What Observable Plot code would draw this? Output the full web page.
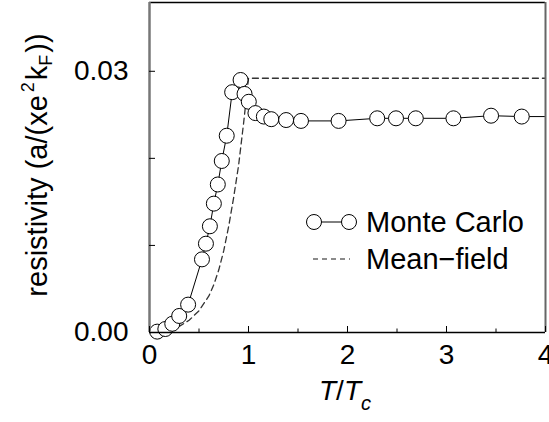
<!DOCTYPE html>
<html>
<head>
<meta charset="utf-8">
<script src="https://cdn.jsdelivr.net/npm/d3@7"></script>
<script src="https://cdn.jsdelivr.net/npm/@observablehq/plot@0.6"></script>
<style>
  html, body { margin: 0; padding: 0; background: #fff; }
  #chart { position: absolute; left: 0; top: 0; }
  svg { font-family: "Liberation Sans", Arial, Helvetica, sans-serif; }
</style>
</head>
<body>
<div id="chart"></div>
<script>
// Monte Carlo data (T/Tc, resistivity)
const mcT   = [0.078, 0.16, 0.23, 0.30, 0.39, 0.53, 0.57, 0.61, 0.65, 0.69, 0.73, 0.78, 0.835, 0.92, 0.96, 1.003, 1.07, 1.155, 1.23, 1.38, 1.53, 1.91, 2.30, 2.49, 2.69, 3.07, 3.45, 3.76, 4.15];
const mcRho = [0.0001, 0.0004, 0.0010, 0.0019, 0.0032, 0.0084, 0.0102, 0.0122, 0.0148, 0.0170, 0.0197, 0.0226, 0.0276, 0.0290, 0.0274, 0.0265, 0.0252, 0.0248, 0.0245, 0.0244, 0.0243, 0.0243, 0.0246, 0.0246, 0.0246, 0.0246, 0.0249, 0.0248, 0.0248];
// Mean-field curve
const mfT   = [0.10, 0.20, 0.30, 0.40, 0.50, 0.60, 0.65, 0.70, 0.75, 0.80, 0.85, 0.90, 0.95, 1.00, 4.20];
const mfRho = [0.0000, 0.0002, 0.0007, 0.0014, 0.0025, 0.0042, 0.0055, 0.0072, 0.0094, 0.0122, 0.0155, 0.0192, 0.0240, 0.0292, 0.0292];
// Axis ticks
const xMajor = [0, 1, 2, 3, 4];
const xMinor = [0.5, 1.5, 2.5, 3.5];
const yTicks = [0, 0.01, 0.02, 0.03];
const yLabeled = [0, 0.03];
const yMax = 0.0379;

const mc = mcT.map((t, i) => ({t, rho: mcRho[i]}));
const mf = mfT.map((t, i) => ({t, rho: mfRho[i]}));
const mcVisible = mc.filter(d => d.t <= 4);

const W = 549, H = 422;
const chart = Plot.plot({
  width: W, height: H,
  marginLeft: 149, marginRight: 4, marginTop: 2, marginBottom: 90,
  style: {fontFamily: "Liberation Sans, Arial, sans-serif", background: "white"},
  x: {domain: [0, 4], axis: null, label: null},
  y: {domain: [0, yMax], axis: null, label: null},
  marks: [
    Plot.line(mf, {x: "t", y: "rho", stroke: "#333", strokeWidth: 1.3, strokeDasharray: "6,4", clip: true}),
    Plot.line(mc, {x: "t", y: "rho", stroke: "#000", strokeWidth: 1, clip: true}),
    Plot.dot(mcVisible, {x: "t", y: "rho", r: 7.5, fill: "white", stroke: "#000", strokeWidth: 1}),
    // frame
    Plot.ruleY([yMax], {stroke: "#000", strokeWidth: 1.5}),
    Plot.ruleY([0], {stroke: "#000", strokeWidth: 1.5}),
    Plot.ruleX([0], {stroke: "#777", strokeWidth: 2.5}),
    Plot.ruleX([4], {stroke: "#666", strokeWidth: 2}),
    // x ticks (inward)
    Plot.axisX(xMajor, {tickSize: -6, tickFormat: () => "", stroke: "#000", label: null}),
    Plot.axisX(xMinor, {tickSize: -3.5, tickFormat: () => "", stroke: "#000", label: null}),
    Plot.axisX(xMajor, {tickSize: 0, tickPadding: 12, fontSize: 28, fill: "#000", tickFormat: d3.format("d"), label: null}),
    // y ticks (inward)
    Plot.axisY(yTicks, {tickSize: -6, tickFormat: () => "", stroke: "#000", label: null}),
    Plot.axisY(yLabeled, {tickSize: 0, tickPadding: 21, fontSize: 28, fill: "#000", tickFormat: d3.format(".2f"), label: null})
  ]
});
document.getElementById("chart").appendChild(chart);

const svg = d3.select(chart);
// y label
const yl = svg.append("text")
  .attr("transform", "translate(47,165) rotate(-90)")
  .attr("text-anchor", "middle")
  .attr("font-size", 29)
  .attr("fill", "#000");
yl.append("tspan").text("resistivity (a/(xe");
yl.append("tspan").attr("font-size", 18).attr("dy", -13).attr("dx", 3).text("2");
yl.append("tspan").attr("dy", 13).attr("dx", 2).text("k");
yl.append("tspan").attr("font-size", 18).attr("dy", 5).text("F");
yl.append("tspan").attr("dy", -5).attr("dx", 2).text("))");

// x label
const xl = svg.append("text")
  .attr("x", 345).attr("y", 400)
  .attr("text-anchor", "middle")
  .attr("font-size", 28)
  .attr("fill", "#000");
xl.append("tspan").attr("font-style", "italic").text("T");
xl.append("tspan").text("/");
xl.append("tspan").attr("font-style", "italic").text("T");
xl.append("tspan").attr("font-style", "italic").attr("font-size", 20).attr("dy", 10).text("c");

// legend
const lg = svg.append("g").attr("text-anchor", "start");
lg.append("line").attr("x1", 314).attr("x2", 349).attr("y1", 222).attr("y2", 222).attr("stroke", "#000");
lg.selectAll("circle").data([314, 349]).join("circle")
  .attr("cx", d => d).attr("cy", 222).attr("r", 7.5).attr("fill", "white").attr("stroke", "#000");
lg.append("text").attr("x", 366).attr("y", 222).attr("dy", "0.36em").attr("font-size", 29).attr("fill", "#000").text("Monte Carlo");
lg.append("line").attr("x1", 313).attr("x2", 350).attr("y1", 259).attr("y2", 259)
  .attr("stroke", "#666").attr("stroke-width", 1.3).attr("stroke-dasharray", "5,4");
lg.append("text").attr("x", 366).attr("y", 259).attr("dy", "0.36em").attr("font-size", 29).attr("fill", "#000").text("Mean\u2212field");
</script>
</body>
</html>
